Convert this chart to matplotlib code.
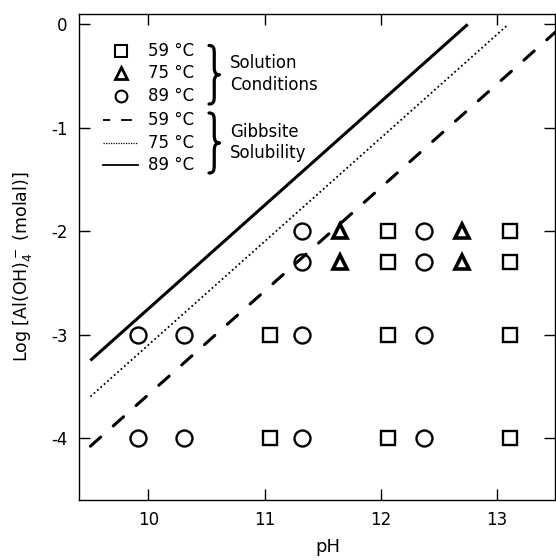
import matplotlib
matplotlib.use("Agg")
import matplotlib.pyplot as plt
from matplotlib.path import Path
from matplotlib.patches import PathPatch

plt.rcParams['font.family'] = ['DejaVu Sans']
plt.rcParams['axes.unicode_minus'] = False

# solution conditions (pH, log [Al(OH)4-])
sq_ph = [11.05, 11.05, 12.06, 12.06, 12.06, 12.06, 13.11, 13.11, 13.11, 13.11]
sq_log = [-4.0, -3.0, -4.0, -3.0, -2.3, -2.0, -4.0, -3.0, -2.3, -2.0]
tri_ph = [11.65, 11.65, 12.70, 12.70]
tri_log = [-2.0, -2.3, -2.0, -2.3]
circ_ph = [9.91, 9.91, 10.31, 10.31, 11.32, 11.32, 11.32, 11.32, 12.37, 12.37, 12.37, 12.37]
circ_log = [-4.0, -3.0, -4.0, -3.0, -4.0, -3.0, -2.3, -2.0, -4.0, -3.0, -2.3, -2.0]

# gibbsite solubility lines
gib59_ph = [9.5, 13.58]
gib59_log = [-4.08, 0.0]
gib75_ph = [9.5, 13.1]
gib75_log = [-3.6, 0.0]
gib89_ph = [9.5, 12.75]
gib89_log = [-3.25, 0.0]

temps = ['59 °C', '75 °C', '89 °C']
xticks = [10, 11, 12, 13]
yticks = [0, -1, -2, -3, -4]

# axes box in pixels (left, top, right, bottom) of the 556x560 figure
AX_L, AX_T, AX_R, AX_B = 78.8, 14.0, 554.8, 500.0
AX_W, AX_H = AX_R - AX_L, AX_B - AX_T


def fx(px):
    return (px - AX_L) / AX_W


def fy(py):
    return (AX_B - py) / AX_H


def brace(ax, x0, x1, y0, y1):
    # right pointing curly brace, pixel box -> axes fraction
    pts = [(0, 0), (0.5, 0), (0.5, 0.06), (0.5, 0.15),
           (0.5, 0.38),
           (0.5, 0.47), (0.7, 0.5), (1.0, 0.5),
           (0.7, 0.5), (0.5, 0.53), (0.5, 0.62),
           (0.5, 0.85),
           (0.5, 0.94), (0.5, 1.0), (0, 1.0)]
    codes = [Path.MOVETO] + [Path.CURVE4] * 3 + [Path.LINETO] + [Path.CURVE4] * 6 \
        + [Path.LINETO] + [Path.CURVE4] * 3
    verts = [(fx(x0 + u * (x1 - x0)), fy(y0 + v * (y1 - y0))) for u, v in pts]
    ax.add_patch(PathPatch(Path(verts, codes), fill=False, lw=2.3, ec='black',
                           capstyle='round', joinstyle='round',
                           transform=ax.transAxes, clip_on=False))


fig = plt.figure(figsize=(5.56, 5.60), dpi=100)
ax = fig.add_axes([AX_L / 556, 1 - AX_B / 560, AX_W / 556, AX_H / 560])

dash = (0, (4.5, 5.5))
dot = (0, (1, 1.5))
ax.plot(gib59_ph, gib59_log, color='black', lw=2.2, linestyle=dash, dash_capstyle='round')
ax.plot(gib75_ph, gib75_log, color='black', lw=1.3, linestyle=dot)
ax.plot(gib89_ph, gib89_log, color='black', lw=2.2, solid_capstyle='butt')

ax.plot(sq_ph, sq_log, 's', ms=10.5, mfc='none', mec='black', mew=1.7, ls='none')
ax.plot(tri_ph, tri_log, '^', ms=10.5, mfc='none', mec='black', mew=2.6, ls='none')
ax.plot(circ_ph, circ_log, 'o', ms=11.5, mfc='none', mec='black', mew=1.7, ls='none')

ax.set_xlim(9.4, 13.5)
ax.set_ylim(-4.6, 0.1)
ax.set_xticks(xticks)
ax.set_yticks(yticks)
ax.tick_params(direction='in', length=8, width=1.0, top=True, right=True,
               labelsize=12, pad=8, colors='black')
for sp in ax.spines.values():
    sp.set_linewidth(1.0)

ax.set_xlabel('pH', fontsize=13)
ax.xaxis.set_label_coords(fx(328), fy(538))
ax.set_ylabel(r'Log [Al(OH)$_4^-$ (molal)]', fontsize=12.5)
ax.yaxis.set_label_coords(fx(34), fy(267))

# hand made legend
T = ax.transAxes
mk_y = [fy(50.7), fy(73.3), fy(96)]
ax.plot([fx(121)], [mk_y[0]], 's', ms=8, mfc='none', mec='black', mew=1.5, transform=T, clip_on=False)
ax.plot([fx(121)], [mk_y[1]], '^', ms=8.5, mfc='none', mec='black', mew=2.0, transform=T, clip_on=False)
ax.plot([fx(121)], [mk_y[2]], 'o', ms=8.5, mfc='none', mec='black', mew=1.5, transform=T, clip_on=False)
ln_y = [fy(120), fy(143.3), fy(165)]
ln_x = [fx(103.3), fx(138.3)]
ax.plot(ln_x, [ln_y[0]] * 2, color='black', lw=1.3, linestyle=(2, (6, 6)), transform=T)
ax.plot(ln_x, [ln_y[1]] * 2, color='black', lw=0.9, linestyle=(0, (1, 1)), transform=T)
ax.plot(ln_x, [ln_y[2]] * 2, color='black', lw=1.3, transform=T)
for t, y in zip(temps + temps, mk_y + ln_y):
    ax.text(fx(148.3), y, t, transform=T, fontsize=12, ha='left', va='center')

brace(ax, 209, 219.5, 45.5, 104)
brace(ax, 209, 219.5, 113, 173)
ax.text(fx(230), fy(63), 'Solution', transform=T, fontsize=12, ha='left', va='center')
ax.text(fx(230), fy(85), 'Conditions', transform=T, fontsize=12, ha='left', va='center')
ax.text(fx(230), fy(132), 'Gibbsite', transform=T, fontsize=12, ha='left', va='center')
ax.text(fx(230), fy(153), 'Solubility', transform=T, fontsize=12, ha='left', va='center')

fig.savefig('out.png', dpi=100)
